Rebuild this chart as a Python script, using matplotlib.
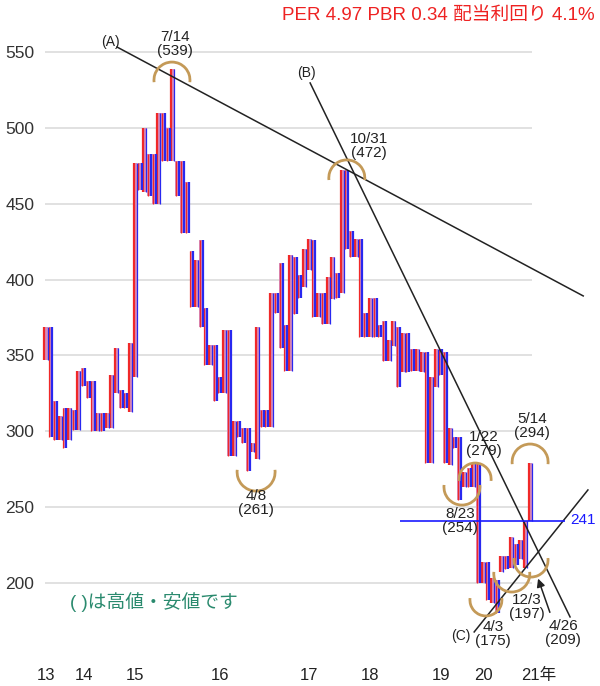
import matplotlib
matplotlib.use("Agg")
import matplotlib.pyplot as plt
from matplotlib.patches import Arc

# 新値足のブロック (安値, 高値, 陽線=1/陰線=0)
bar_lo = [347, 296, 294, 294, 289, 294, 301, 301, 330, 322, 300, 300, 300, 302, 302, 325,
          315, 315, 313, 336, 459, 458, 455, 450, 450, 478, 478, 478, 455, 431, 431, 382,
          382, 369, 344, 344, 320, 325, 325, 284, 284, 296, 292, 274, 286, 282, 303, 303,
          303, 378, 355, 340, 340, 377, 388, 395, 406, 375, 375, 371, 371, 387, 388, 391,
          420, 415, 415, 362, 362, 362, 362, 362, 346, 346, 356, 329, 339, 339, 340, 340,
          339, 279, 279, 329, 337, 279, 278, 289, 255, 263, 263, 263, 200, 200, 189, 187,
          180, 207, 209, 210, 212, 216, 210, 241]
bar_hi = [369, 369, 320, 310, 315, 315, 314, 340, 342, 333, 333, 312, 312, 312, 337, 355,
          327, 325, 358, 477, 477, 500, 483, 483, 510, 510, 500, 539, 478, 478, 464, 419,
          413, 426, 381, 357, 357, 336, 367, 367, 307, 307, 302, 302, 292, 369, 314, 314,
          391, 391, 411, 370, 416, 415, 403, 420, 427, 426, 391, 391, 402, 415, 404, 472,
          472, 432, 427, 427, 378, 388, 388, 370, 373, 360, 373, 369, 365, 365, 354, 354,
          352, 352, 336, 354, 354, 352, 302, 296, 296, 273, 276, 279, 279, 214, 214, 203,
          202, 218, 218, 230, 226, 228, 241, 279]
bar_up = [1, 0, 0, 1, 0, 1, 0, 1, 0, 0, 0, 1, 0, 1, 1, 1,
          0, 0, 1, 1, 0, 1, 0, 0, 1, 0, 0, 1, 0, 0, 0, 0,
          1, 0, 0, 1, 0, 0, 1, 0, 1, 0, 0, 0, 1, 1, 0, 0,
          1, 0, 0, 0, 1, 0, 0, 1, 1, 0, 1, 0, 1, 1, 0, 1,
          0, 0, 1, 0, 0, 1, 0, 0, 0, 1, 1, 0, 1, 0, 0, 1,
          1, 0, 1, 1, 0, 0, 1, 0, 0, 1, 0, 1, 0, 1, 0, 1,
          0, 1, 0, 1, 0, 1, 1, 1]

year_labels = ["13", "14", "15", "16", "17", "18", "19", "20", "21年"]
year_pos = [0, 8, 19, 37, 56, 69, 84, 93, 103]
yticks = [200, 250, 300, 350, 400, 450, 500, 550]

# 高値・安値の注記 (ラベル, 位置)
notes = [("7/14\n(539)", 27.5, 555), ("10/31\n(472)", 68.7, 488), ("4/8\n(261)", 44.7, 252.7),
         ("1/22\n(279)", 93.2, 291.6), ("5/14\n(294)", 103.4, 303.5), ("8/23\n(254)", 88.1, 240.8),
         ("12/3\n(197)", 102.3, 184.1), ("4/3\n(175)", 95.1, 166.3), ("4/26\n(209)", 110, 166.9)]

JP = ["Liberation Sans", "Noto Sans CJK JP", "DejaVu Sans"]
plt.rcParams["font.family"] = JP

fig = plt.figure(figsize=(6, 6.86), dpi=100)
ax = fig.add_axes([40 / 600, 1 - 650 / 686, 560 / 600, 630 / 686])
ax.set_xlim(-1.277, 117.87)
ax.set_ylim(155.8, 571.1)
for s in ax.spines.values():
    s.set_visible(False)

ax.hlines(yticks, -0.2, 103.4, color="#dcdcdc", lw=1.2, zorder=0)
ax.set_yticks(yticks)
ax.set_yticklabels([str(v) for v in yticks], fontsize=12.5, color="#333333")
ax.tick_params(axis="y", length=0, pad=4)
ax.set_xticks([])

x = list(range(len(bar_lo)))
heights = [h - l for l, h in zip(bar_lo, bar_hi)]
ax.bar(x, heights, bottom=bar_lo, width=0.92, color="#d68cbc", zorder=2)
red_w = [1.6 if u else 0.9 for u in bar_up]
blue_w = [0.9 if u else 1.6 for u in bar_up]
ax.vlines([i - 0.32 for i in x], bar_lo, bar_hi, color="#f02828", lw=red_w, zorder=3)
ax.vlines([i + 0.32 for i in x], bar_lo, bar_hi, color="#2828f0", lw=blue_w, zorder=3)

# トレンドライン
ax.plot([15.1, 114.3], [553.3, 389.2], color="#222222", lw=1.1, zorder=4)
ax.plot([56.2, 111.5], [529.6, 177.6], color="#222222", lw=1.1, zorder=4)
ax.plot([91.1, 115.3], [167.7, 261.3], color="#222222", lw=1.1, zorder=4)
ax.annotate("", xy=(104.5, 204.6), xytext=(107.4, 178.9),
            arrowprops=dict(arrowstyle="-|>", color="#222222", lw=1.1, mutation_scale=12), zorder=4)
ax.hlines(241, 75.3, 110.4, color="#1a1aff", lw=1.2, zorder=4)
ax.text(111.6, 241.5, "241", color="#1a1aff", fontsize=11, va="center", ha="left")

for lab, lx, ly in [("(A)", 13.8, 556.6), ("(B)", 55.5, 536.2), ("(C)", 88.3, 165)]:
    ax.text(lx, ly, lab, fontsize=10, ha="center", va="center", color="#222222")

# 円弧 (中心, 半径px, 上向き/下向き)
px_x, px_y = 4.7, 1.517
arcs = [(26.8, 531.5, 18, 1), (64.0, 467, 18, 1), (44.7, 273.1, 19, 0), (91.3, 268.5, 16, 1),
        (88.5, 263.2, 18, 0), (103.0, 279.7, 18, 1), (93.6, 188.8, 16, 0), (99.1, 205.9, 18, 0),
        (103.2, 215.1, 17, 0)]
for cx, cy, r, top in arcs:
    t1, t2 = (-20, 200) if top else (160, 380)
    ax.add_patch(Arc((cx, cy), 2 * r / px_x, 2 * r / px_y, theta1=t1, theta2=t2,
                     color="#c49a58", lw=2.0, zorder=5))

for lab, lx, ly in notes:
    ax.text(lx, ly, lab, fontsize=11, ha="center", va="center", color="#222222",
            linespacing=1.0, zorder=6)

for lab, pos in zip(year_labels, year_pos):
    if lab.endswith("年"):
        ax.annotate(lab, xy=(pos, -0.04), xycoords=("data", "axes fraction"), xytext=(-6.5, 0),
                    textcoords="offset points", ha="left", va="center", fontsize=12, color="#222222")
    else:
        ax.annotate(lab, xy=(pos, -0.04), xycoords=("data", "axes fraction"),
                    ha="center", va="center", fontsize=12, color="#222222")

fig.text(595 / 600, 1 - 15 / 686, "PER 4.97 PBR 0.34 配当利回り 4.1%", color="#ee2222",
         fontsize=13.5, ha="right", va="center")
fig.text(70 / 600, 1 - 602 / 686, "( )は高値・安値です", color="#2a8a6e",
         fontsize=13.5, ha="left", va="center")

fig.savefig("out.png", dpi=100)
